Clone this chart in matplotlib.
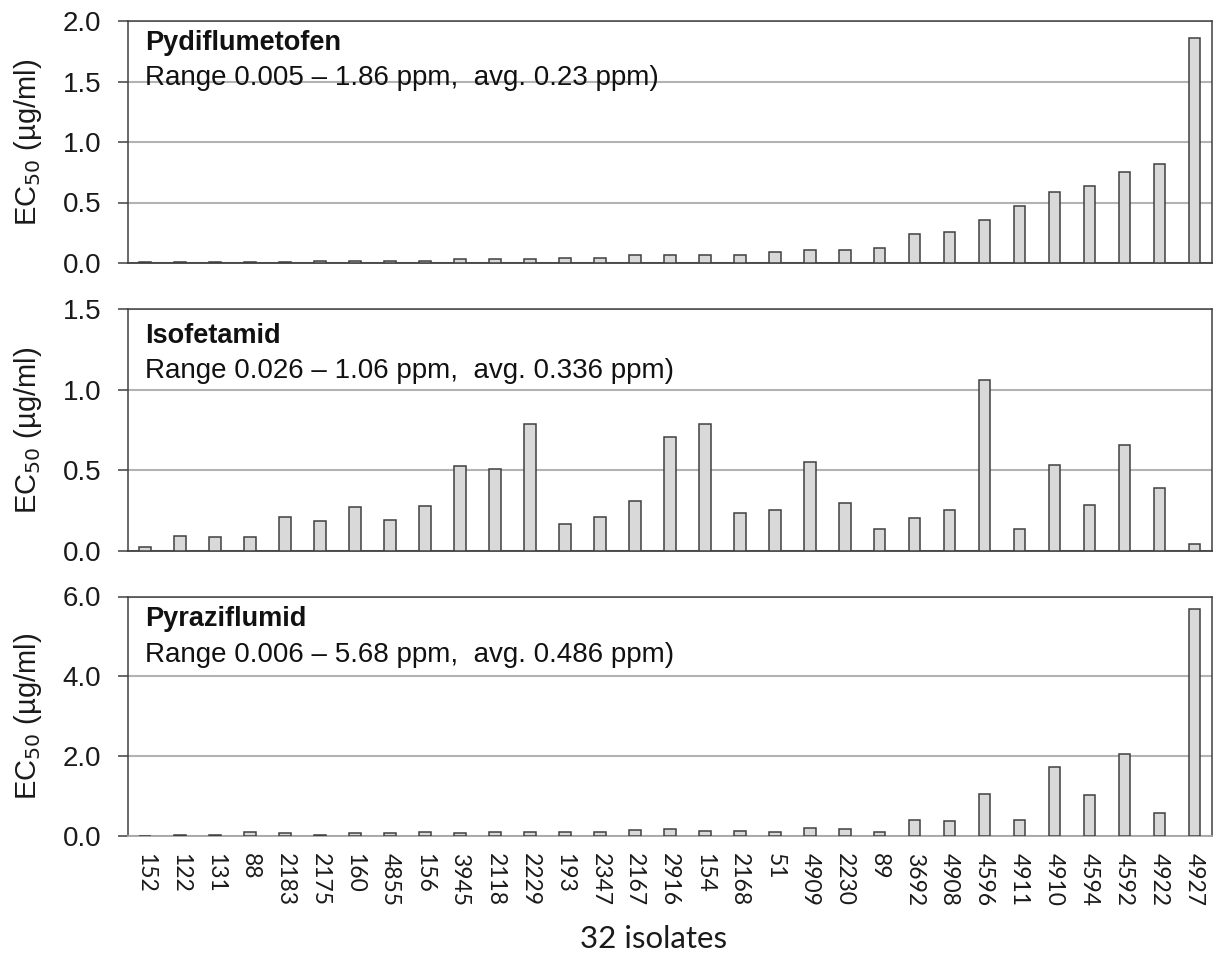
import matplotlib
matplotlib.use("Agg")
import matplotlib.pyplot as plt
import numpy as np

isolates = ["152", "122", "131", "88", "2183", "2175", "160", "4855", "156", "3945",
            "2118", "2229", "193", "2347", "2167", "2916", "154", "2168", "51", "4909",
            "2230", "89", "3692", "4908", "4596", "4911", "4910", "4594", "4592", "4922", "4927"]

pydiflumetofen = [0.005, 0.006, 0.007, 0.008, 0.009, 0.02, 0.02, 0.02, 0.02, 0.03,
                  0.03, 0.03, 0.042, 0.042, 0.065, 0.069, 0.069, 0.069, 0.093, 0.104,
                  0.104, 0.126, 0.239, 0.253, 0.354, 0.475, 0.59, 0.637, 0.75, 0.819, 1.86]

isofetamid = [0.026, 0.093, 0.084, 0.084, 0.212, 0.185, 0.27, 0.195, 0.278, 0.527,
              0.508, 0.788, 0.169, 0.212, 0.307, 0.704, 0.788, 0.237, 0.253, 0.551,
              0.296, 0.136, 0.204, 0.253, 1.06, 0.136, 0.535, 0.288, 0.66, 0.389, 0.041]

pyraziflumid = [0.006, 0.015, 0.02, 0.1, 0.07, 0.02, 0.07, 0.065, 0.1, 0.065,
                0.1, 0.1, 0.1, 0.1, 0.16, 0.17, 0.13, 0.13, 0.1, 0.2,
                0.17, 0.1, 0.41, 0.37, 1.06, 0.41, 1.74, 1.02, 2.05, 0.58, 5.68]

titles = ["Pydiflumetofen", "Isofetamid", "Pyraziflumid"]
subtitles = ["Range 0.005 \u2013 1.86 ppm,  avg. 0.23 ppm)",
             "Range 0.026 \u2013 1.06 ppm,  avg. 0.336 ppm)",
             "Range 0.006 \u2013 5.68 ppm,  avg. 0.486 ppm)"]
yticks = [[0, 0.5, 1.0, 1.5, 2.0], [0, 0.5, 1.0, 1.5], [0, 2.0, 4.0, 6.0]]
xlabel = "32 isolates"

W, H = 1218, 958
fig = plt.figure(figsize=(W / 100, H / 100), dpi=100)

left_px, right_px = 127.7, 1212
panels_px = [(21, 263), (309, 551), (596.5, 836)]
title_off = [29, 34, 30]
sub_off = [64, 69, 65]

data = [pydiflumetofen, isofetamid, pyraziflumid]
x = np.arange(len(isolates))
dark = "#404040"
grid_c = "#b3b3b3"
txt_c = "#1a1a1a"

for i, (vals, (top, bot)) in enumerate(zip(data, panels_px)):
    ax = fig.add_axes([left_px / W, 1 - bot / H, (right_px - left_px) / W, (bot - top) / H])
    ax.bar(x, vals, width=0.33, color="#d9d9d9", edgecolor=dark, linewidth=1.1, zorder=3)
    ax.set_xlim(-0.5, len(isolates) - 0.5)
    ax.set_ylim(yticks[i][0], yticks[i][-1])
    ax.set_yticks(yticks[i])
    ax.set_yticklabels([f"{t:.1f}" for t in yticks[i]], family="Liberation Sans", fontsize=20, color=txt_c)
    ax.yaxis.grid(True, color=grid_c, linewidth=1.5, zorder=0)
    ax.set_axisbelow(True)
    ax.tick_params(axis="y", direction="out", length=7, width=1.1, color=dark, pad=12)
    ax.tick_params(axis="x", length=0)
    for s in ["left", "top", "right"]:
        ax.spines[s].set_color(dark)
        ax.spines[s].set_linewidth(1.1)
    ax.spines["bottom"].set_color(dark if i < 2 else "#a6a6a6")
    ax.spines["bottom"].set_linewidth(1.3)
    ax.set_ylabel("EC$_{50}$ (µg/ml)", family="Liberation Sans", fontsize=21, color=txt_c)
    ax.yaxis.set_label_coords(-0.077, 0.5)
    h = bot - top
    ax.text(0.016, 1 - title_off[i] / h, titles[i], transform=ax.transAxes, family="Liberation Sans",
            fontsize=19.5, fontweight="bold", va="baseline", ha="left", color="#111111")
    ax.text(0.016, 1 - sub_off[i] / h, subtitles[i], transform=ax.transAxes, family="Liberation Sans",
            fontsize=20, va="baseline", ha="left", color="#111111")
    ax.set_xticks(x)
    if i < 2:
        ax.set_xticklabels([])
    else:
        ax.set_xticklabels(isolates, rotation=-90, family="Lato", fontsize=16.5, color=txt_c)
        ax.tick_params(axis="x", pad=12)

fig.text(654 / W, 1 - 948 / H, xlabel, family="Lato", fontsize=22.5, color=txt_c,
         ha="center", va="baseline")

fig.savefig("out.png", dpi=100)
